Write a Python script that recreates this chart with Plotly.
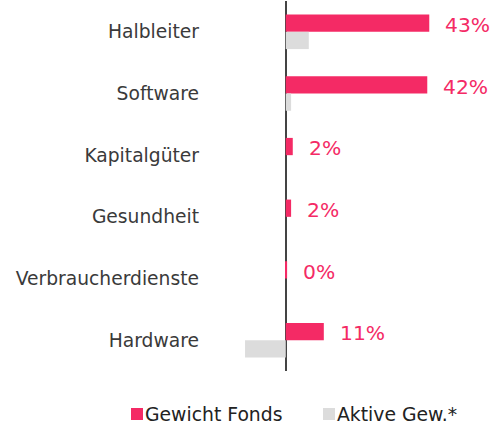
import plotly.graph_objects as go

# Sector weights (%)
categories = ["Halbleiter", "Software", "Kapitalgüter", "Gesundheit", "Verbraucherdienste", "Hardware"]
fund_weight = [43.0, 42.4, 2.1, 1.6, 0.4, 11.4]
active_weight = [6.9, 1.6, 0.0, 0.0, 0.0, -12.2]
series_names = ["Gewicht Fonds", "Aktive Gew.*"]

PINK = "#F42A65"
GREY = "#DCDCDC"
FONT = "DejaVu Sans"

W, H = 492, 425
L, R, T, B = 210, 12, 1, 54
PW, PH = W - L - R, H - T - B


def px_x(px):
    return (px - L) / PW


def px_y(py):
    return (H - B - py) / PH


fig = go.Figure()
fig.add_trace(go.Bar(
    y=categories, x=fund_weight, orientation="h", name=series_names[0],
    marker=dict(color=PINK, line=dict(width=0)), hoverinfo="skip",
))
fig.add_trace(go.Bar(
    y=categories, x=active_weight, orientation="h", name=series_names[1],
    marker=dict(color=GREY, line=dict(width=0)), hoverinfo="skip",
))

# value labels next to the fund-weight bars
for cat, v in zip(categories, fund_weight):
    fig.add_annotation(
        x=max(v, 0), y=cat, xref="x", yref="y",
        text=f"{v:.0f}%", showarrow=False,
        xanchor="left", yanchor="middle", xshift=14, yshift=7,
        font=dict(family=FONT, size=20.3, color=PINK),
    )

# legend row underneath the plot
legend_items = [(series_names[0], PINK, 131), (series_names[1], GREY, 323)]
for name, col, x0 in legend_items:
    fig.add_shape(
        type="rect", xref="paper", yref="paper",
        x0=px_x(x0), x1=px_x(x0 + 12), y0=px_y(420), y1=px_y(408),
        fillcolor=col, line=dict(width=0),
    )
    fig.add_annotation(
        x=px_x(x0 + 12), y=px_y(414), xref="paper", yref="paper",
        text=name, showarrow=False, xanchor="left", yanchor="middle",
        font=dict(family=FONT, size=18.8, color="#222222"),
    )

fig.update_layout(
    width=W, height=H,
    margin=dict(l=L, r=R, t=T, b=B),
    paper_bgcolor="white", plot_bgcolor="white",
    barmode="group", bargap=0.44, bargroupgap=0,
    font=dict(family=FONT, size=17, color="#333333"),
    showlegend=False,
    xaxis=dict(
        range=[-22.7, 58.2], showgrid=False, showticklabels=False,
        zeroline=True, zerolinecolor="#444444", zerolinewidth=2,
        fixedrange=True,
    ),
    yaxis=dict(
        categoryorder="array", categoryarray=categories, autorange="reversed",
        showgrid=False, zeroline=False, ticks="", ticklabelstandoff=10,
        tickfont=dict(family=FONT, size=18.7, color="#3a3a3a"),
        fixedrange=True,
    ),
)

fig.write_html("out.html")
